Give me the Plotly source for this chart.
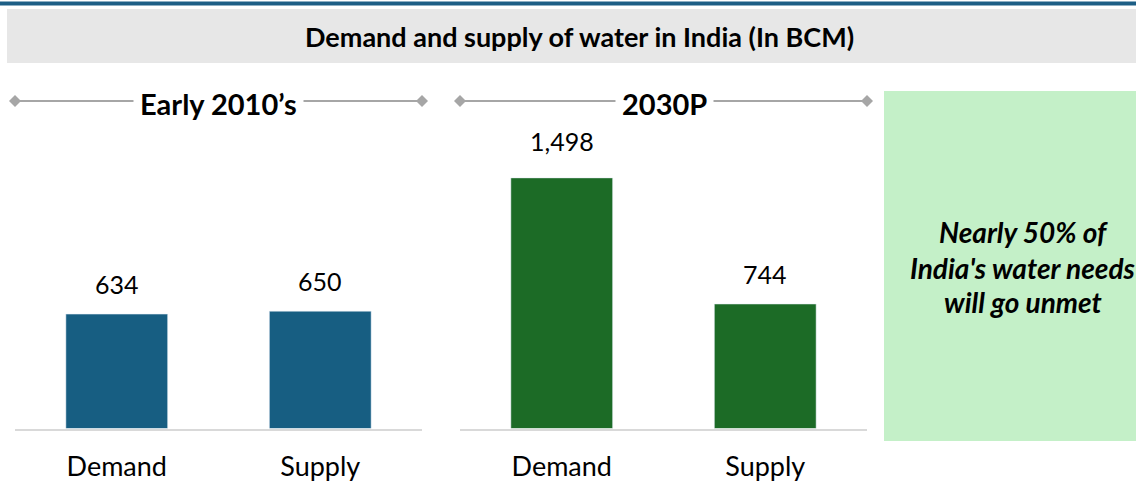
"""
Demand and supply of water in India (In BCM) - two panel bar chart
"""
import plotly.graph_objects as go

W, H = 1136, 483

categories = ["Demand", "Supply"]
early_values = [634, 650]
proj_values = [1498, 744]
panel_titles = ["Early 2010\u2019s", "2030P"]
chart_title = "Demand and supply of water in India (In BCM)"
callout_lines = ["Nearly 50% of", "India's water needs", "will go unmet"]

BLUE = "#175e82"
GREEN = "#1c6b26"
FONT = "Lato"


def px(x):
    return x / W


def py(y):
    return 1 - y / H


fig = go.Figure()

fig.add_trace(go.Bar(x=categories, y=early_values, marker_color=BLUE,
                     xaxis="x", yaxis="y", showlegend=False, hoverinfo="x+y"))
fig.add_trace(go.Bar(x=categories, y=proj_values, marker_color=GREEN,
                     xaxis="x2", yaxis="y2", showlegend=False, hoverinfo="x+y"))

# value labels above bars
annotations = []
for xref, yref, vals in [("x", "y", early_values), ("x2", "y2", proj_values)]:
    for cat, v in zip(categories, vals):
        annotations.append(dict(
            x=cat, y=v, xref=xref, yref=yref, text=f"{v:,}",
            showarrow=False, xanchor="center", yanchor="bottom",
            yshift=20 if v > 1000 else 13,
            font=dict(family=FONT, size=25, color="#000000")))

# main title in grey band
annotations.append(dict(
    x=px(579), y=py(37), xref="paper", yref="paper", text=f"<b>{chart_title}</b>",
    showarrow=False, xanchor="center", yanchor="middle",
    font=dict(family=FONT, size=27, color="#000000")))

# panel headers
shapes = []
for (x0, x1, xc), title in zip([(15, 422, 218), (460, 867, 664)], panel_titles):
    shapes.append(dict(type="line", xref="paper", yref="paper",
                       x0=px(x0), x1=px(x1), y0=py(101), y1=py(101),
                       line=dict(color="#a6a6a6", width=2)))
    for xd in (x0, x1):
        shapes.append(dict(type="path", xref="paper", yref="paper",
                           path=(f"M {px(xd - 6)} {py(101)} L {px(xd)} {py(95)} "
                                 f"L {px(xd + 6)} {py(101)} L {px(xd)} {py(107)} Z"),
                           fillcolor="#a6a6a6", line=dict(width=0)))
    annotations.append(dict(
        x=px(xc), y=py(103), xref="paper", yref="paper", text=f"<b>{title}</b>",
        showarrow=False, xanchor="center", yanchor="middle", bgcolor="#ffffff", borderpad=6,
        font=dict(family=FONT, size=29, color="#000000")))

# top rule and title band
shapes.append(dict(type="rect", xref="paper", yref="paper", x0=0, x1=1,
                   y0=py(5.5), y1=py(1.5), fillcolor="#1d5e85", line=dict(width=0), layer="below"))
shapes.append(dict(type="rect", xref="paper", yref="paper", x0=px(7), x1=1,
                   y0=py(63), y1=py(9), fillcolor="#e7e7e7", line=dict(width=0), layer="below"))

# callout box
shapes.append(dict(type="rect", xref="paper", yref="paper", x0=px(884), x1=px(1165),
                   y0=py(441), y1=py(91), fillcolor="#c4f0c8", line=dict(width=0), layer="below"))
for line, yc in zip(callout_lines, [232, 268, 302]):
    annotations.append(dict(
        x=px(1023), y=py(yc), xref="paper", yref="paper", text=f"<b><i>{line}</i></b>",
        showarrow=False, xanchor="center", yanchor="middle",
        font=dict(family=FONT, size=28, color="#000000")))

y_dom = [py(428.5), py(120)]
axis_common = dict(showgrid=False, zeroline=False, showline=True, linecolor="#d9d9d9",
                   linewidth=2, ticks="", ticklabelstandoff=13,
                   tickfont=dict(family=FONT, size=27, color="#000000"), fixedrange=True)
yaxis_common = dict(showgrid=False, zeroline=False, showline=False, showticklabels=False,
                    fixedrange=True)

fig.update_layout(
    width=W, height=H,
    margin=dict(l=0, r=0, t=0, b=0),
    paper_bgcolor="#ffffff", plot_bgcolor="rgba(0,0,0,0)",
    bargap=0.5,
    xaxis=dict(domain=[px(15), px(422)], anchor="y", **axis_common),
    xaxis2=dict(domain=[px(460), px(867)], anchor="y2", **axis_common),
    yaxis=dict(domain=y_dom, range=[0, 1710], anchor="x", **yaxis_common),
    yaxis2=dict(domain=y_dom, range=[0, 1844], anchor="x2", **yaxis_common),
    shapes=shapes,
    annotations=annotations,
    font=dict(family=FONT),
)

# drop the default body margin so the figure sits at the page origin
fig.write_html("out.html", config={"displayModeBar": False},
               post_script="document.body.style.margin='0';")
